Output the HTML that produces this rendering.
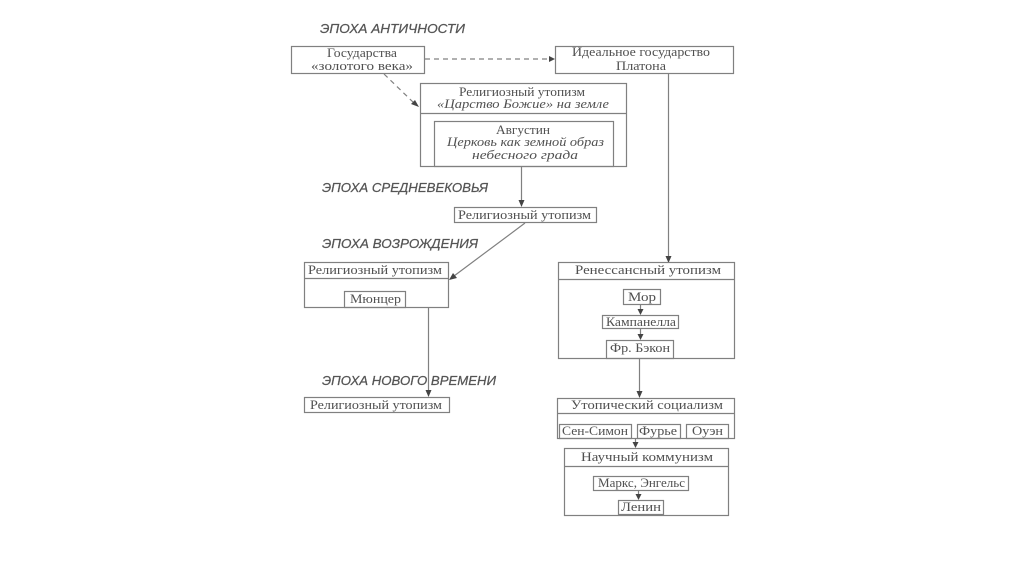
<!DOCTYPE html>
<html>
<head>
<meta charset="utf-8">
<style>
html,body{margin:0;padding:0;background:#fff;}
svg{display:block;}
.b{fill:none;stroke:#808080;stroke-width:1.2;}
.l{fill:none;stroke:#808080;stroke-width:1.2;}
.d{fill:none;stroke:#808080;stroke-width:1.2;stroke-dasharray:5 4;}
.t{font-family:"Liberation Serif","Noto Serif CJK SC",serif;font-size:12.5px;fill:#505050;}
.i{font-family:"Liberation Serif","Noto Serif CJK SC",serif;font-size:12.5px;font-style:italic;fill:#505050;}
.e{font-family:"Liberation Sans","Noto Sans CJK SC",sans-serif;font-size:13px;font-style:italic;fill:#555;stroke:#555;stroke-width:0.25;}
.a{fill:#444;}
</style>
</head>
<body>
<svg width="1024" height="574" viewBox="0 0 1024 574" xmlns="http://www.w3.org/2000/svg">
<!-- Epoch labels -->
<text class="e" x="320" y="33" textLength="145" lengthAdjust="spacingAndGlyphs">ЭПОХА АНТИЧНОСТИ</text>
<text class="e" x="322" y="192" textLength="166" lengthAdjust="spacingAndGlyphs">ЭПОХА СРЕДНЕВЕКОВЬЯ</text>
<text class="e" x="322" y="248" textLength="156" lengthAdjust="spacingAndGlyphs">ЭПОХА ВОЗРОЖДЕНИЯ</text>
<text class="e" x="322" y="385" textLength="174" lengthAdjust="spacingAndGlyphs">ЭПОХА НОВОГО ВРЕМЕНИ</text>

<!-- Box 1: Государства -->
<rect class="b" x="291.5" y="46.5" width="133" height="27"/>
<text class="t" x="327" y="57" textLength="70" lengthAdjust="spacingAndGlyphs">Государства</text>
<text class="t" x="311" y="70" textLength="102" lengthAdjust="spacingAndGlyphs">«золотого века»</text>

<!-- Box 2: Платон -->
<rect class="b" x="555.5" y="46.5" width="178" height="27"/>
<text class="t" x="572" y="56" textLength="138" lengthAdjust="spacingAndGlyphs">Идеальное государство</text>
<text class="t" x="616" y="70" textLength="50" lengthAdjust="spacingAndGlyphs">Платона</text>

<!-- dashed arrows -->
<line class="d" x1="425" y1="59" x2="549" y2="59"/>
<polygon class="a" points="555,59 549,56 549,62"/>
<line class="d" x1="384" y1="74" x2="414" y2="103"/>
<polygon class="a" points="419,107 411,104 415,100"/>

<!-- Religious utopism top -->
<rect class="b" x="420.5" y="83.5" width="206" height="83"/>
<line class="l" x1="420.5" y1="113.5" x2="626.5" y2="113.5"/>
<text class="t" x="459" y="96" textLength="126" lengthAdjust="spacingAndGlyphs">Религиозный утопизм</text>
<text class="i" x="437" y="108" textLength="172" lengthAdjust="spacingAndGlyphs">«Царство Божие» на земле</text>
<rect class="b" x="434.5" y="121.5" width="179" height="45"/>
<text class="t" x="496" y="134" textLength="54" lengthAdjust="spacingAndGlyphs">Августин</text>
<text class="i" x="447" y="146" textLength="157" lengthAdjust="spacingAndGlyphs">Церковь как земной образ</text>
<text class="i" x="472" y="159" textLength="106" lengthAdjust="spacingAndGlyphs">небесного града</text>

<!-- Platon vertical line -->
<line class="l" x1="668.5" y1="73" x2="668.5" y2="257"/>
<polygon class="a" points="668.5,263 665.5,256 671.5,256"/>

<!-- Augustine to middle -->
<line class="l" x1="521.5" y1="167" x2="521.5" y2="201"/>
<polygon class="a" points="521.5,207 518.5,200 524.5,200"/>

<!-- Middle religious -->
<rect class="b" x="454.5" y="207.5" width="142" height="15"/>
<text class="t" x="458" y="219" textLength="133" lengthAdjust="spacingAndGlyphs">Религиозный утопизм</text>

<!-- diagonal -->
<line class="l" x1="525" y1="223" x2="454" y2="276"/>
<polygon class="a" points="449,280 453,273 457,278"/>

<!-- Left renaissance box -->
<rect class="b" x="304.5" y="262.5" width="144" height="45"/>
<line class="l" x1="304.5" y1="278.5" x2="448.5" y2="278.5"/>
<text class="t" x="308" y="274" textLength="134" lengthAdjust="spacingAndGlyphs">Религиозный утопизм</text>
<rect class="b" x="344.5" y="291.5" width="61" height="16"/>
<text class="t" x="350" y="303" textLength="51" lengthAdjust="spacingAndGlyphs">Мюнцер</text>

<!-- Muntzer line -->
<line class="l" x1="428.5" y1="308" x2="428.5" y2="391"/>
<polygon class="a" points="428.5,397 425.5,390 431.5,390"/>

<!-- bottom left -->
<rect class="b" x="304.5" y="397.5" width="145" height="15"/>
<text class="t" x="310" y="409" textLength="132" lengthAdjust="spacingAndGlyphs">Религиозный утопизм</text>

<!-- Renaissance utopism -->
<rect class="b" x="558.5" y="262.5" width="176" height="96"/>
<line class="l" x1="558.5" y1="279.5" x2="734.5" y2="279.5"/>
<text class="t" x="575" y="274" textLength="146" lengthAdjust="spacingAndGlyphs">Ренессансный утопизм</text>
<rect class="b" x="623.5" y="289.5" width="37" height="15"/>
<text class="t" x="628" y="301" textLength="28" lengthAdjust="spacingAndGlyphs">Мор</text>
<line class="l" x1="640.5" y1="305" x2="640.5" y2="310"/>
<polygon class="a" points="640.5,315 637.5,309 643.5,309"/>
<rect class="b" x="602.5" y="315.5" width="76" height="13"/>
<text class="t" x="606" y="326" textLength="70" lengthAdjust="spacingAndGlyphs">Кампанелла</text>
<line class="l" x1="640.5" y1="329" x2="640.5" y2="335"/>
<polygon class="a" points="640.5,340 637.5,334 643.5,334"/>
<rect class="b" x="606.5" y="340.5" width="67" height="18"/>
<text class="t" x="610" y="352" textLength="60" lengthAdjust="spacingAndGlyphs">Фр. Бэкон</text>

<!-- Bacon line -->
<line class="l" x1="639.5" y1="359" x2="639.5" y2="392"/>
<polygon class="a" points="639.5,398 636.5,391 642.5,391"/>

<!-- Utopian socialism -->
<rect class="b" x="557.5" y="398.5" width="177" height="40"/>
<line class="l" x1="557.5" y1="413.5" x2="734.5" y2="413.5"/>
<text class="t" x="571" y="409" textLength="152" lengthAdjust="spacingAndGlyphs">Утопический социализм</text>
<rect class="b" x="559.5" y="424.5" width="72" height="14"/>
<text class="t" x="562" y="435" textLength="66" lengthAdjust="spacingAndGlyphs">Сен-Симон</text>
<rect class="b" x="637.5" y="424.5" width="43" height="14"/>
<text class="t" x="639" y="435" textLength="38" lengthAdjust="spacingAndGlyphs">Фурье</text>
<rect class="b" x="686.5" y="424.5" width="42" height="14"/>
<text class="t" x="692" y="435" textLength="31" lengthAdjust="spacingAndGlyphs">Оуэн</text>

<!-- to scientific -->
<line class="l" x1="635.5" y1="439" x2="635.5" y2="443"/>
<polygon class="a" points="635.5,448 632.5,442 638.5,442"/>

<!-- Scientific communism -->
<rect class="b" x="564.5" y="448.5" width="164" height="67"/>
<line class="l" x1="564.5" y1="466.5" x2="728.5" y2="466.5"/>
<text class="t" x="581" y="461" textLength="132" lengthAdjust="spacingAndGlyphs">Научный коммунизм</text>
<rect class="b" x="593.5" y="476.5" width="95" height="14"/>
<text class="t" x="598" y="487" textLength="87" lengthAdjust="spacingAndGlyphs">Маркс, Энгельс</text>
<line class="l" x1="638.5" y1="491" x2="638.5" y2="495"/>
<polygon class="a" points="638.5,500 635.5,494 641.5,494"/>
<rect class="b" x="618.5" y="500.5" width="45" height="14"/>
<text class="t" x="621" y="511" textLength="40" lengthAdjust="spacingAndGlyphs">Ленин</text>
</svg>
</body>
</html>
